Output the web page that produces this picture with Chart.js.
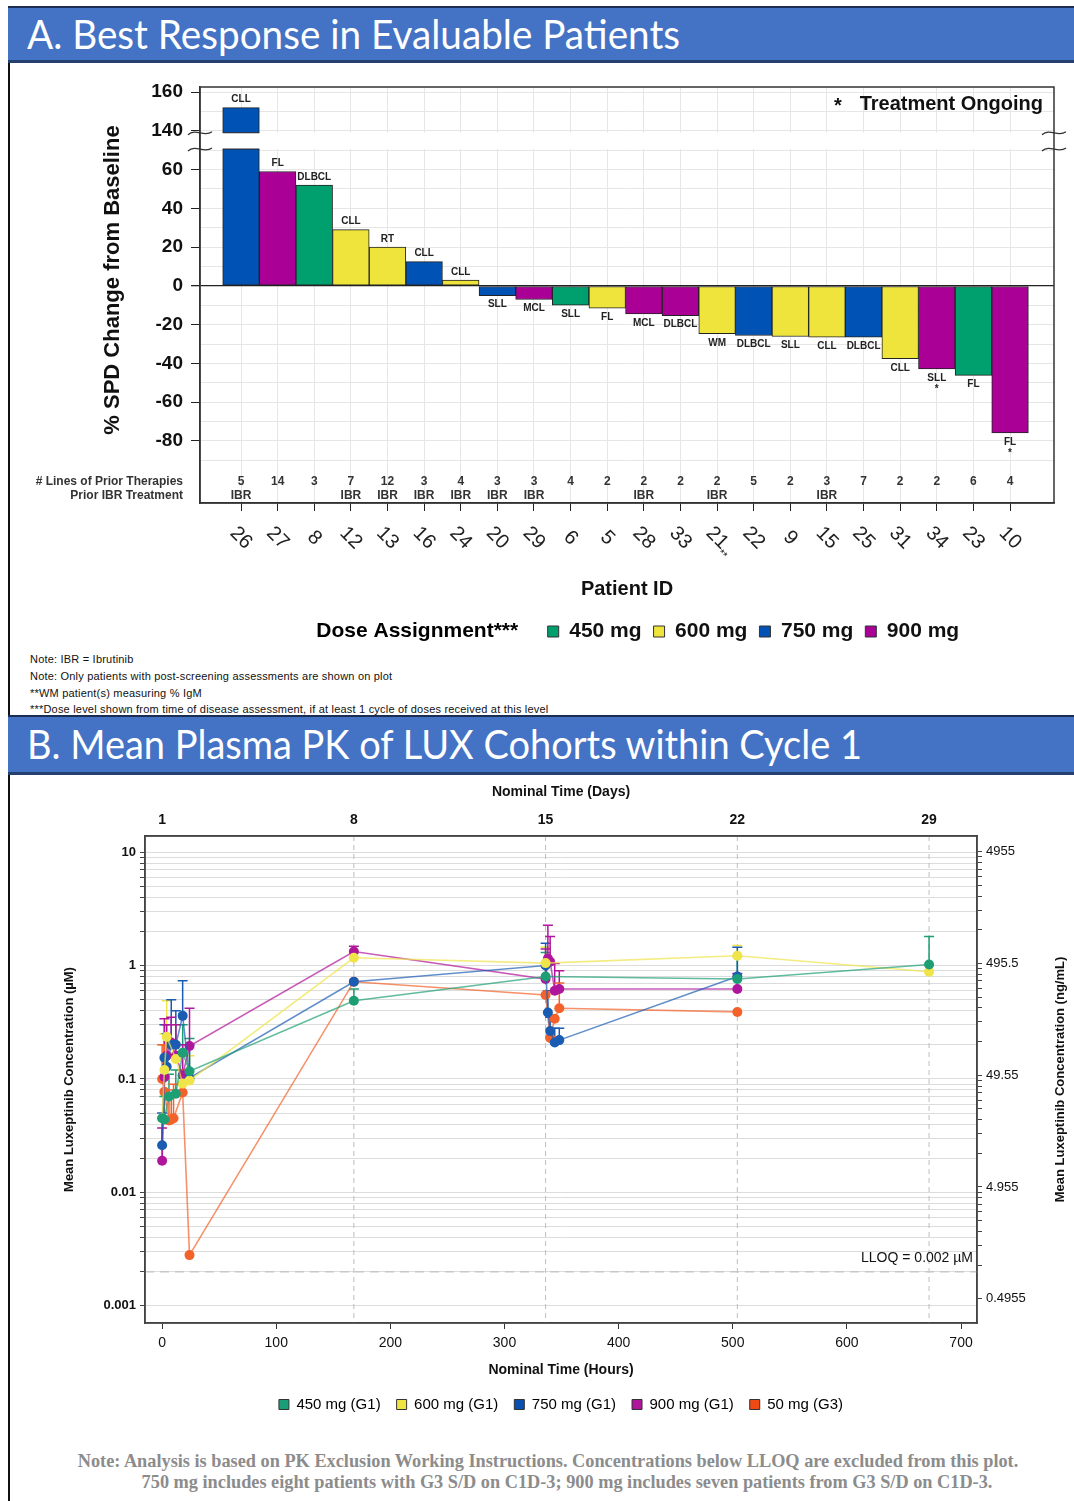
<!DOCTYPE html>
<html>
<head>
<meta charset="utf-8">
<title>Luxeptinib response and PK</title>
<script src="https://cdn.jsdelivr.net/npm/chart.js@4.4.1/dist/chart.umd.min.js"></script>
<style>
  body { margin: 0; width: 1074px; height: 1501px; overflow: hidden; background: #fff; position: relative; font-family: "Liberation Sans", Arial, sans-serif; }
  .band { position: absolute; left: 8px; width: 1066px; background: #4472c4; border-top: 2px solid #1c2d52; border-bottom: 3px solid #24406f; }
  .band span { position: absolute; left: 19px; top: 0; color: #fff; font-family: Lato, "Open Sans", sans-serif; font-size: 40px; white-space: nowrap; transform-origin: 0 50%; }
  .rule { position: absolute; left: 8px; width: 2px; background: #111; }
  canvas { position: absolute; left: 10px; }
  .noteA { position: absolute; left: 30px; font-size: 11px; letter-spacing: 0.2px; line-height: 12px; color: #111; white-space: nowrap; }
  .noteB { position: absolute; transform: translateX(-50%); font-family: "Liberation Serif", "Times New Roman", serif; font-weight: bold; font-size: 18.3px; line-height: 20px; color: #8c8c8c; white-space: nowrap; }
</style>
</head>
<body>
<div class="band" style="top:6px;height:52px"><span id="hA" style="line-height:52px">A. Best Response in Evaluable Patients</span></div>
<div class="rule" style="top:63px;height:652px"></div>
<canvas id="chartA" width="1064" height="589" style="top:63px"></canvas>
<div class="noteA" style="top:653px">Note: IBR = Ibrutinib</div>
<div class="noteA" style="top:670px">Note: Only patients with post-screening assessments are shown on plot</div>
<div class="noteA" style="top:687px">**WM patient(s) measuring % IgM</div>
<div class="noteA" style="top:703px">***Dose level shown from time of disease assessment, if at least 1 cycle of doses received at this level</div>

<div class="band" style="top:715px;height:55px"><span id="hB" style="line-height:55px">B. Mean Plasma PK of LUX Cohorts within Cycle 1</span></div>
<div class="rule" style="top:775px;height:726px"></div>
<canvas id="chartB" width="1064" height="647" style="top:775px"></canvas>
<div class="noteB" style="left:548px;top:1451px">Note: Analysis is based on PK Exclusion Working Instructions. Concentrations below LLOQ are excluded from this plot.</div>
<div class="noteB" style="left:567px;top:1472px">750 mg includes eight patients with G3 S/D on C1D-3; 900 mg includes seven patients from G3 S/D on C1D-3.</div>

<script>
// ---------- Panel A data ----------
const patientIds = ['26', '27', '8', '12', '13', '16', '24', '20', '29', '6', '5', '28', '33', '21', '22', '9', '15', '25', '31', '34', '23', '10'];
const idSuffix = ['', '', '', '', '', '', '', '', '', '', '', '', '', '**', '', '', '', '', '', '', '', ''];
const pctChange = [152, 59, 52, 29, 20, 12.5, 3, -5, -7, -10, -11.5, -14.5, -15.3, -24.7, -25.6, -26.1, -26.5, -26.5, -37.6, -42.8, -46.2, -75.8];
const diseases = ['CLL', 'FL', 'DLBCL', 'CLL', 'RT', 'CLL', 'CLL', 'SLL', 'MCL', 'SLL', 'FL', 'MCL', 'DLBCL', 'WM', 'DLBCL', 'SLL', 'CLL', 'DLBCL', 'CLL', 'SLL', 'FL', 'FL'];
const doseMg = [750, 900, 450, 600, 600, 750, 600, 750, 900, 450, 600, 900, 900, 600, 750, 600, 600, 750, 600, 900, 450, 900];
const ongoing = ['', '', '', '', '', '', '', '', '', '', '', '', '', '', '', '', '', '', '', '*', '', '*'];
const priorLines = [5, 14, 3, 7, 12, 3, 4, 3, 3, 4, 2, 2, 2, 2, 5, 2, 3, 7, 2, 2, 6, 4];
const priorIbr = ['IBR', '', '', 'IBR', 'IBR', 'IBR', 'IBR', 'IBR', 'IBR', '', '', 'IBR', '', 'IBR', '', '', 'IBR', '', '', '', '', ''];
const doseLevels = [450, 600, 750, 900];
const doseLabels = ['450 mg', '600 mg', '750 mg', '900 mg'];
const doseColors = ['#00a06e', '#efe43c', '#0052b4', '#aa0096'];

// ---------- Panel B data ----------
const pkLabels = ['450 mg (G1)', '600 mg (G1)', '750 mg (G1)', '900 mg (G1)', '50 mg (G3)'];
const pkColors = ['#1e9e74', '#efe44a', '#1b5cb3', '#b0169b', '#f4622b'];
const pkLegendColors = ['#1a9e77', '#f0e442', '#0a50b0', '#b0169b', '#f04a14'];
const hours450 = [0, 2, 6, 12, 18, 24, 168, 336, 504, 672];
const conc450 = [0.045, 0.044, 0.07, 0.074, 0.17, 0.117, 0.49, 0.80, 0.76, 1.02];
const upper450 = [null, 0.07, 0.11, 0.12, 0.3, 0.227, 0.62, 1.3, 1.2, 1.8];
const hours600 = [0, 2, 4, 12, 18, 24, 168, 336, 504, 672];
const conc600 = [0.045, 0.12, 0.235, 0.15, 0.091, 0.097, 1.17, 1.05, 1.22, 0.88];
const upper600 = [null, 0.25, 0.49, 0.3, 0.2, 0.16, 1.3, 1.45, 1.5, null];
const hours750 = [0, 2, 4, 8, 12, 18, 24, 168, 336, 338, 340, 344, 348, 504];
const conc750 = [0.026, 0.154, 0.128, 0.2, 0.2, 0.36, 0.102, 0.72, 1.0, 0.385, 0.265, 0.21, 0.22, 0.80];
const upper750 = [0.05, 0.3, 0.25, 0.5, 0.4, 0.735, 0.2, null, 1.57, 0.6, 0.35, 0.28, 0.28, 1.45];
const hours900 = [0, 2, 4, 8, 12, 18, 24, 168, 336, 338, 340, 344, 348, 504];
const conc900 = [0.019, 0.104, 0.16, 0.21, 0.16, 0.108, 0.195, 1.33, 0.76, 1.15, 1.08, 0.6, 0.62, 0.62];
const upper900 = [0.037, 0.34, 0.3, 0.35, 0.3, 0.2, 0.42, 1.48, 1.4, 2.26, 1.8, 1.04, 0.9, 0.85];
const hours50 = [0, 2, 6, 8, 10, 18, 24, 168, 336, 340, 344, 348, 504];
const conc50 = [0.1, 0.077, 0.043, 0.044, 0.045, 0.076, 0.0028, 0.72, 0.55, 0.23, 0.34, 0.42, 0.39];
const upper50 = [0.2, 0.2, 0.08, 0.07, 0.09, 0.12, null, null, null, null, null, 0.7, null];
const hourTicks = [0, 100, 200, 300, 400, 500, 600, 700];
const dayTickHours = [0, 168, 336, 504, 672];
const dayTickLabels = ['1', '8', '15', '22', '29'];
const leftTickLabels = ['0.001', '0.01', '0.1', '1', '10'];
const rightTickLabels = ['0.4955', '4.955', '49.55', '495.5', '4955'];
const lloq = 0.002;
const ngPerUm = 495.5;

const pkSeries = [
  { hours: hours450, conc: conc450, upper: upper450 },
  { hours: hours600, conc: conc600, upper: upper600 },
  { hours: hours750, conc: conc750, upper: upper750 },
  { hours: hours900, conc: conc900, upper: upper900 },
  { hours: hours50, conc: conc50, upper: upper50 }
];

const sans = '"Liberation Sans", Arial, sans-serif';
const narrow = '"Liberation Sans Narrow", "Liberation Sans", Arial, sans-serif';
Chart.defaults.font.family = sans;

// broken y axis: values above 100 are drawn 60 units lower
const breakShift = 60;
const shown = v => (v > 100 ? v - breakShift : v);
const isMajorA = v => v % 20 === 0 && v >= -80;

const datasetsA = doseLevels.map((d, k) => ({
  label: doseLabels[k],
  data: patientIds.map((id, i) => ({ x: i, y: shown(pctChange[i]) })).filter((p, i) => doseMg[i] === d),
  backgroundColor: doseColors[k],
  borderColor: '#222',
  borderWidth: 1,
  borderSkipped: false,
  barPercentage: 1,
  categoryPercentage: 1,
  grouped: false
}));

const panelAExtras = {
  id: 'panelAExtras',
  afterDatasetsDraw(chart) {
    const { ctx, chartArea: a, scales: { y } } = chart;
    const top = y.getPixelForValue(79), bot = y.getPixelForValue(70.6);
    ctx.save();
    ctx.fillStyle = '#fff';
    ctx.fillRect(a.left + 1, top, a.right - a.left - 2, bot - top);
    ctx.strokeStyle = '#222';
    ctx.lineWidth = 1;
    chart.data.datasets.forEach((ds, k) => {
      chart.getDatasetMeta(k).data.forEach((el, j) => {
        if (ds.data[j].y > 79) {
          const hw = el.width / 2;
          [top, bot].forEach(yy => {
            ctx.beginPath(); ctx.moveTo(el.x - hw, yy); ctx.lineTo(el.x + hw, yy); ctx.stroke();
          });
        }
      });
    });
    ctx.lineWidth = 1.3;
    ctx.strokeStyle = '#333';
    [a.left, a.right].forEach(ax => [top, bot].forEach(yy => {
      ctx.beginPath();
      ctx.moveTo(ax - 12, yy + 2);
      ctx.bezierCurveTo(ax - 4, yy - 5, ax + 4, yy + 5, ax + 12, yy - 1);
      ctx.stroke();
    }));
    ctx.restore();
  },
  afterDraw(chart) {
    const { ctx, chartArea: a, scales: { x, y } } = chart;
    ctx.save();
    ctx.strokeStyle = '#333';
    ctx.lineWidth = 1.5;
    ctx.strokeRect(a.left, a.top, a.right - a.left, a.bottom - a.top);

    // y axis title, a little above the middle as in the figure
    ctx.save();
    ctx.translate(103, 217);
    ctx.rotate(-Math.PI / 2);
    ctx.textAlign = 'center';
    ctx.textBaseline = 'middle';
    ctx.font = 'bold 22px ' + sans;
    ctx.fillStyle = '#111';
    ctx.fillText('% SPD Change from Baseline', 0, 0);
    ctx.restore();

    // disease labels
    ctx.fillStyle = '#222';
    ctx.textAlign = 'center';
    ctx.textBaseline = 'middle';
    ctx.font = 'bold 10px ' + sans;
    chart.data.datasets.forEach((ds, k) => {
      chart.getDatasetMeta(k).data.forEach((el, j) => {
        const i = ds.data[j].x;
        if (pctChange[i] >= 0) {
          ctx.fillText(diseases[i], el.x, el.y - 8);
        } else {
          ctx.fillText(diseases[i], el.x, el.y + 9);
          if (ongoing[i]) ctx.fillText(ongoing[i], el.x, el.y + 20);
        }
      });
    });

    // prior therapy rows
    ctx.font = 'bold 12px ' + sans;
    ctx.fillStyle = '#333';
    const rowY1 = y.getPixelForValue(-101), rowY2 = y.getPixelForValue(-108.3);
    patientIds.forEach((id, i) => {
      const px = x.getPixelForValue(i);
      ctx.fillText(String(priorLines[i]), px, rowY1);
      if (priorIbr[i]) ctx.fillText(priorIbr[i], px, rowY2);
    });
    ctx.textAlign = 'right';
    ctx.fillText('# Lines of Prior Therapies', a.left - 17, rowY1);
    ctx.fillText('Prior IBR Treatment', a.left - 17, rowY2);

    // rotated patient ids
    ctx.fillStyle = '#222';
    patientIds.forEach((id, i) => {
      const px = x.getPixelForValue(i);
      ctx.save();
      ctx.translate(px, a.bottom + 35);
      ctx.rotate(Math.PI / 4);
      ctx.textAlign = 'center';
      ctx.font = '20px ' + sans;
      ctx.fillText(id, 0, 0);
      if (idSuffix[i]) {
        ctx.font = '11px ' + sans;
        ctx.textAlign = 'left';
        ctx.fillText(idSuffix[i], 11, 8);
      }
      ctx.restore();
    });

    // treatment ongoing key
    ctx.textAlign = 'right';
    ctx.font = 'bold 20px ' + sans;
    ctx.fillStyle = '#111';
    const keyY = a.top + 17;
    ctx.fillText('Treatment Ongoing', a.right - 11, keyY);
    const w = ctx.measureText('Treatment Ongoing').width;
    ctx.fillText('*', a.right - 11 - w - 18, keyY + 2);
    ctx.restore();
  }
};

new Chart(document.getElementById('chartA'), {
  type: 'bar',
  data: { datasets: datasetsA },
  options: {
    responsive: false,
    animation: false,
    layout: { padding: { top: 24, right: 20, left: 0, bottom: 0 } },
    plugins: {
      tooltip: { enabled: false },
      legend: {
        position: 'bottom',
        fullSize: false,
        labels: {
          boxWidth: 11,
          boxHeight: 11,
          padding: 12,
          color: '#111',
          font: { size: 21, weight: 'bold' },
          generateLabels(chart) {
            const items = Chart.defaults.plugins.legend.labels.generateLabels(chart);
            items.forEach(it => { it.strokeStyle = '#333'; it.lineWidth = 1; });
            return [{ text: 'Dose Assignment***   ', fillStyle: 'rgba(0,0,0,0)', strokeStyle: 'rgba(0,0,0,0)', lineWidth: 0, hidden: false, datasetIndex: -1 }].concat(items);
          }
        }
      }
    },
    scales: {
      x: {
        type: 'linear',
        offset: false,
        min: -1.12,
        max: 22.2,
        afterBuildTicks: s => { s.ticks = patientIds.map((id, i) => ({ value: i })); },
        ticks: { display: false, autoSkip: false },
        grid: { offset: false, color: '#e6e6e6', tickColor: '#222', tickLength: 8 },
        border: { color: '#333', width: 1.5 },
        title: { display: true, text: 'Patient ID', color: '#111', font: { size: 20, weight: 'bold' }, padding: { top: 0, bottom: 8 } },
        afterFit: s => { s.height = 106; }
      },
      y: {
        min: -112,
        max: 102.6,
        afterBuildTicks: s => {
          const t = [];
          for (let v = -110; v <= 100; v += 10) t.push({ value: v });
          s.ticks = t;
        },
        ticks: {
          autoSkip: false,
          padding: 8,
          color: '#111',
          font: { size: 19, weight: 'bold' },
          callback: v => (isMajorA(v) ? String(v > 70 ? v + breakShift : v) : '')
        },
        grid: {
          tickLength: 9,
          lineWidth: c => (c.tick && c.tick.value === 0 ? 1.3 : 1),
          color: c => (c.tick && c.tick.value === 0 ? '#222' : (c.tick && c.tick.value < -90 ? 'rgba(0,0,0,0)' : '#e6e6e6')),
          tickColor: c => (c.tick && isMajorA(c.tick.value) ? '#222' : 'rgba(0,0,0,0)')
        },
        border: { color: '#333', width: 1.5 },
        title: { display: false },
        afterFit: s => { s.width = 190; }
      }
    }
  },
  plugins: [panelAExtras]
});

// ---------- Panel B ----------
const yMinB = 0.000706, yMaxB = 13.86;
const logTicks = [];
for (let d = -3; d <= 0; d++) for (let m = 1; m <= 9; m++) logTicks.push(m * Math.pow(10, d));
logTicks.push(10);

const withAlpha = (hex, a) => {
  const n = parseInt(hex.slice(1), 16);
  return 'rgba(' + (n >> 16) + ',' + ((n >> 8) & 255) + ',' + (n & 255) + ',' + a + ')';
};

const datasetsB = pkSeries.map((s, k) => ({
  label: pkLabels[k],
  data: s.hours.map((h, i) => ({ x: h, y: s.conc[i] })),
  borderColor: withAlpha(pkColors[k], 0.7),
  backgroundColor: pkColors[k],
  borderWidth: 1.6,
  pointRadius: 5,
  pointBorderWidth: 0,
  pointBackgroundColor: pkColors[k],
  tension: 0
}));

const panelBExtras = {
  id: 'panelBExtras',
  beforeDatasetsDraw(chart) {
    const { ctx, chartArea: a, scales: { x, y } } = chart;
    ctx.save();
    ctx.strokeStyle = '#bdbdbd';
    ctx.lineWidth = 1;
    ctx.setLineDash([5, 4]);
    dayTickHours.forEach(h => {
      if (h <= 0) return;
      const px = x.getPixelForValue(h);
      ctx.beginPath(); ctx.moveTo(px, a.top); ctx.lineTo(px, a.bottom); ctx.stroke();
    });
    ctx.strokeStyle = '#c8c8c8';
    ctx.lineWidth = 1.6;
    ctx.setLineDash([9, 6]);
    const ly = y.getPixelForValue(lloq);
    ctx.beginPath(); ctx.moveTo(a.left, ly); ctx.lineTo(a.right, ly); ctx.stroke();
    ctx.setLineDash([]);
    ctx.lineWidth = 1.5;
    pkSeries.forEach((s, k) => {
      ctx.strokeStyle = pkColors[k];
      s.upper.forEach((u, i) => {
        if (u == null) return;
        const px = x.getPixelForValue(s.hours[i]);
        const y0 = y.getPixelForValue(s.conc[i]), y1 = y.getPixelForValue(u);
        ctx.beginPath();
        ctx.moveTo(px, y0); ctx.lineTo(px, y1);
        ctx.moveTo(px - 5, y1); ctx.lineTo(px + 5, y1);
        ctx.stroke();
      });
    });
    ctx.restore();
  },
  afterDraw(chart) {
    const { ctx, chartArea: a, scales: { y } } = chart;
    ctx.save();
    ctx.strokeStyle = '#444';
    ctx.lineWidth = 1.5;
    ctx.strokeRect(a.left, a.top, a.right - a.left, a.bottom - a.top);
    ctx.fillStyle = '#111';
    ctx.font = '14px ' + narrow;
    ctx.textAlign = 'right';
    ctx.textBaseline = 'middle';
    ctx.fillText('LLOQ = 0.002 \u00b5M', a.right - 4, y.getPixelForValue(lloq) - 14);
    ctx.translate(chart.width - 14, (a.top + a.bottom) / 2);
    ctx.rotate(-Math.PI / 2);
    ctx.textAlign = 'center';
    ctx.font = 'bold 13px ' + narrow;
    ctx.fillText('Mean Luxeptinib Concentration (ng/mL)', 0, 0);
    ctx.restore();
  }
};

new Chart(document.getElementById('chartB'), {
  type: 'line',
  data: { datasets: datasetsB },
  options: {
    responsive: false,
    animation: false,
    layout: { padding: 0 },
    plugins: {
      tooltip: { enabled: false },
      legend: {
        position: 'bottom',
        fullSize: false,
        labels: {
          boxWidth: 10,
          boxHeight: 10,
          padding: 16,
          color: '#222',
          font: { size: 15, family: narrow },
          generateLabels(chart) {
            return chart.data.datasets.map((ds, k) => ({
              text: ds.label, fillStyle: pkLegendColors[k], strokeStyle: '#333', lineWidth: 1, hidden: false, datasetIndex: k
            }));
          }
        }
      }
    },
    scales: {
      x: {
        type: 'linear',
        position: 'bottom',
        min: -15,
        max: 714,
        afterBuildTicks: s => { s.ticks = hourTicks.map(v => ({ value: v })); },
        ticks: { autoSkip: false, color: '#111', padding: 6, font: { size: 14, family: narrow } },
        grid: { drawOnChartArea: false, tickColor: '#333', tickLength: 6 },
        border: { color: '#444', width: 1.5 },
        title: { display: true, text: 'Nominal Time (Hours)', color: '#111', font: { size: 14, weight: 'bold', family: narrow }, padding: { top: 4, bottom: 2 } },
        afterFit: s => { s.height = 58; }
      },
      x2: {
        type: 'linear',
        position: 'top',
        min: -15,
        max: 714,
        afterBuildTicks: s => { s.ticks = dayTickHours.map(v => ({ value: v })); },
        ticks: { autoSkip: false, color: '#111', padding: 7, font: { size: 14, weight: 'bold', family: narrow }, callback: (v, i) => dayTickLabels[i] },
        grid: { display: false, drawTicks: false },
        border: { color: '#444', width: 1.5 },
        title: { display: true, text: 'Nominal Time (Days)', color: '#111', font: { size: 14, weight: 'bold', family: narrow }, padding: { top: 9, bottom: 0 } },
        afterFit: s => { s.height = 61; }
      },
      y: {
        type: 'logarithmic',
        min: yMinB,
        max: yMaxB,
        afterBuildTicks: s => { s.ticks = logTicks.map(v => ({ value: v })); },
        ticks: { autoSkip: false, color: '#111', padding: 4, font: { size: 13, weight: 'bold', family: narrow }, callback: (v, i) => (i % 9 === 0 ? leftTickLabels[i / 9] : '') },
        grid: { color: '#dcdcdc', tickColor: '#444', tickLength: 5 },
        border: { color: '#444', width: 1.5 },
        title: { display: true, text: 'Mean Luxeptinib Concentration (\u00b5M)', color: '#111', font: { size: 13, weight: 'bold', family: narrow }, padding: { top: 52, bottom: 0 } },
        afterFit: s => { s.width = 135; }
      },
      y2: {
        type: 'logarithmic',
        position: 'right',
        min: yMinB * ngPerUm,
        max: yMaxB * ngPerUm,
        afterBuildTicks: s => { s.ticks = logTicks.map(v => ({ value: v * ngPerUm })); },
        ticks: { autoSkip: false, color: '#111', padding: 4, font: { size: 13, family: narrow }, callback: (v, i) => (i % 9 === 0 ? rightTickLabels[i / 9] : '') },
        grid: { drawOnChartArea: false, tickColor: '#444', tickLength: 5 },
        border: { color: '#444', width: 1.5 },
        afterFit: s => { s.width = 97; }
      }
    }
  },
  plugins: [panelBExtras]
});

// fit header texts to their widths in the figure
[['hA', 653], ['hB', 835]].forEach(([id, target]) => {
  const el = document.getElementById(id);
  const w = el.getBoundingClientRect().width;
  el.style.transform = 'scaleX(' + (target / w) + ')';
});
</script>
</body>
</html>
